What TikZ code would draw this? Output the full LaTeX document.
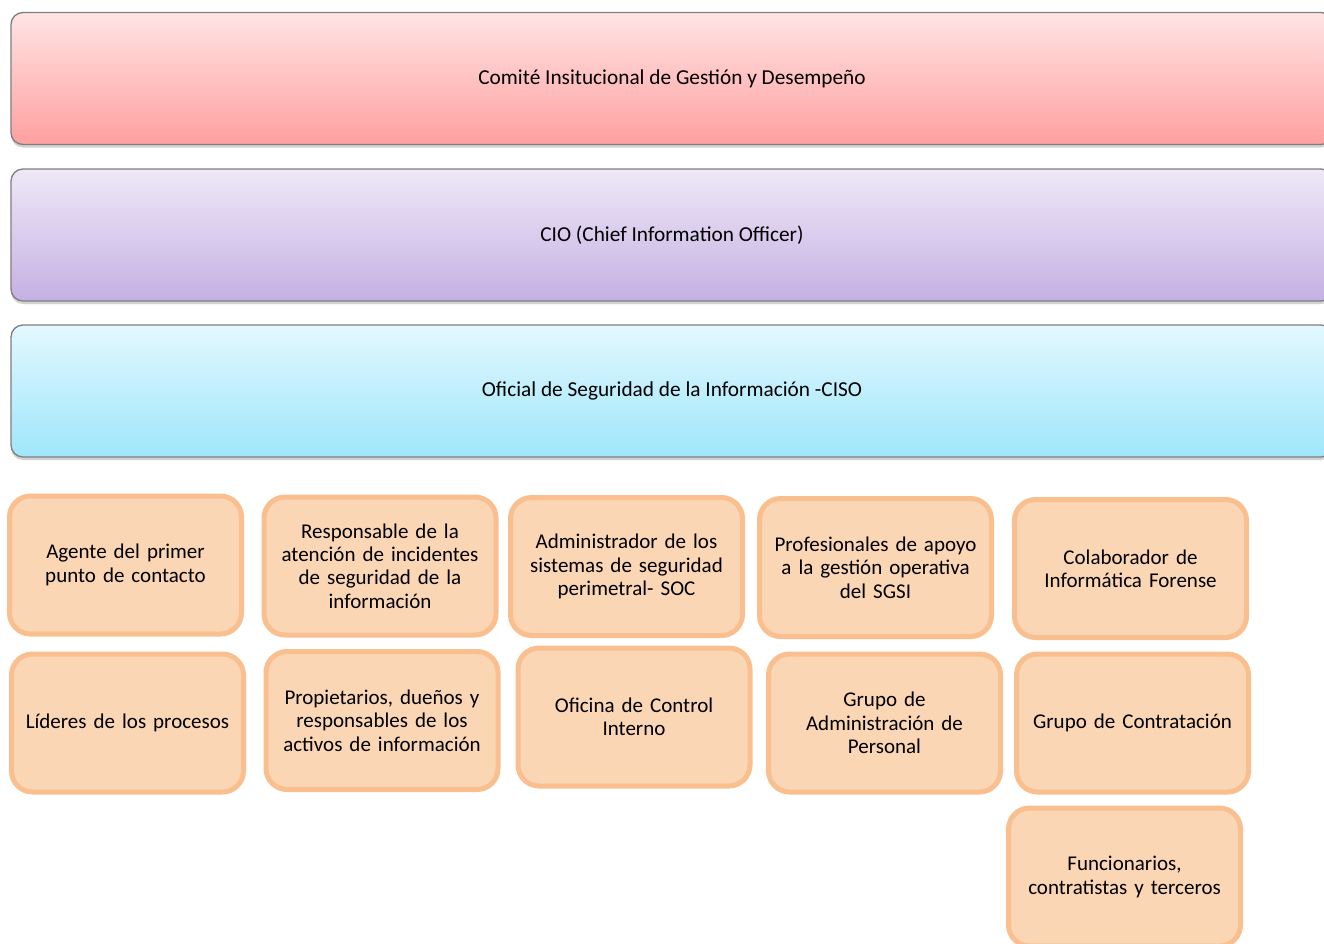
\documentclass[tikz,border=0pt]{standalone}
\usepackage{fontspec}
\setmainfont{Carlito}
\usetikzlibrary{shadows}
\definecolor{ofill}{HTML}{FAD6B4}
\definecolor{obd}{HTML}{F9BF8F}
\definecolor{pinkT}{HTML}{FFE4E4}
\definecolor{pinkB}{HTML}{FFA0A0}
\definecolor{purT}{HTML}{EEE8F7}
\definecolor{purB}{HTML}{C5B0E3}
\definecolor{cyT}{HTML}{E2F8FE}
\definecolor{cyB}{HTML}{9FE6FB}
\definecolor{gbd}{HTML}{7F7F7F}
\tikzset{
  banner/.style={draw=gbd, line width=1.3pt, rounded corners=12pt,
    minimum width=1322pt, minimum height=132pt, inner sep=0pt,
    drop shadow={opacity=0.35, shadow xshift=0pt, shadow yshift=-3pt},
    font=\fontsize{21.3}{23.3}\selectfont},
  obox/.style={draw=obd, fill=ofill, line width=5pt, rounded corners=21pt,
    minimum width=232pt, minimum height=138pt, text width=228pt,
    align=center, inner sep=0pt, font=\fontsize{21}{23.3}\selectfont}
}
\begin{document}
\begin{tikzpicture}[x=1pt,y=-1pt]
\useasboundingbox (0,0) rectangle (1324,943);
\fill[white] (0,0) rectangle (1324,943);
\clip (0,0) rectangle (1324,943);
\node[banner, top color=pinkT, bottom color=pinkB] (comite) at (672,78.5) {Comité Insitucional de Gestión y Desempeño};
\node[banner, top color=purT, bottom color=purB] (cio) at (672,235) {CIO (Chief Information Officer)};
\node[banner, top color=cyT, bottom color=cyB] (ciso) at (672,391) {Oficial de Seguridad de la Información -CISO};

\node[obox] (a1) at (125.5,565) {Agente del primer\\punto de contacto};
\node[obox] (a2) at (380,566) {Responsable de la\\atención de incidentes\\de seguridad de la\\información};
\node[obox] (a3) at (626.5,566.5) {Administrador de los\\sistemas de seguridad\\perimetral- SOC};
\node[obox] (a4) at (875.5,567.5) {Profesionales de apoyo\\a la gestión operativa\\del SGSI};
\node[obox] (a5) at (1130.5,568.5) {Colaborador de\\Informática Forense};

\node[obox] (b1) at (127.5,723) {Líderes de los procesos};
\node[obox] (b2) at (382,720.5) {Propietarios, dueños y\\responsables de los\\activos de información};
\node[obox] (b3) at (634,717) {Oficina de Control\\Interno};
\node[obox] (b4) at (884.5,723) {Grupo de\\Administración de\\Personal};
\node[obox] (b5) at (1132.5,723) {Grupo de Contratación};

\node[obox] (c5) at (1124.5,877) {Funcionarios,\\contratistas y terceros};
\end{tikzpicture}
\end{document}
